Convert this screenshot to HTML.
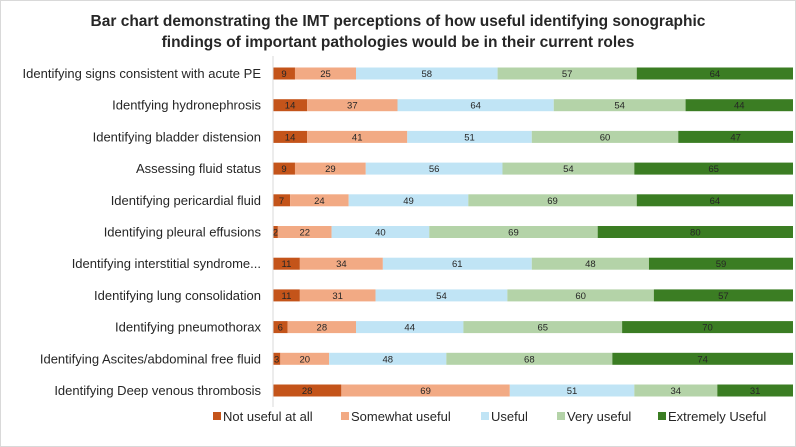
<!DOCTYPE html>
<html><head><meta charset="utf-8"><style>
body{margin:0;background:#fff;}
svg{display:block;font-family:"Liberation Sans",sans-serif;}
</style></head><body>
<svg id="chart" width="796" height="447">
<rect x="0.5" y="0.5" width="795" height="446" fill="#fff" stroke="#d9d9d9"/>
<text x="398" y="26" text-anchor="middle" font-size="15.5" font-weight="bold" fill="#262626">Bar chart demonstrating the IMT perceptions of how useful identifying sonographic</text>
<text x="398" y="47" text-anchor="middle" font-size="15.5" font-weight="bold" fill="#262626">findings of important pathologies would be in their current roles</text>
<g id="bars"></g>
<line x1="273" y1="56" x2="273" y2="407" stroke="#d9d9d9"/>
<g id="legend"></g>
</svg>
<script>
const categories=["Identifying signs consistent with acute PE","Identfying hydronephrosis","Identifying bladder distension","Assessing fluid status","Identifying pericardial fluid","Identifying pleural effusions","Identifying interstitial syndrome...","Identifying lung consolidation","Identifying pneumothorax","Identifying Ascites/abdominal free fluid","Identifying Deep venous thrombosis"];
const seriesNames=["Not useful at all","Somewhat useful","Useful","Very useful","Extremely Useful"];
const notUseful=[9,14,14,9,7,2,11,11,6,3,28];
const somewhatUseful=[25,37,41,29,24,22,34,31,28,20,69];
const useful=[58,64,51,56,49,40,61,54,44,48,51];
const veryUseful=[57,54,60,54,69,69,48,60,65,68,34];
const extremelyUseful=[64,44,47,65,64,80,59,57,70,74,31];
const series=[notUseful,somewhatUseful,useful,veryUseful,extremelyUseful];
const colors=["#c55a11","#f4b183","#bdd7ee","#a9d08e","#3a7d22"];
const colors2=["#c4541a","#f2aa84","#c0e4f5","#b4d3a8","#3b7d23"];
const ns="http://www.w3.org/2000/svg";
const x0=273,plotW=520,y0=73.5,step=31.7,bh=12;
let maxTotal=0;
categories.forEach((c,i)=>{let t=0;series.forEach(s=>t+=s[i]);if(t>maxTotal)maxTotal=t;});
const xs=v=>v/maxTotal*plotW;
const ys=i=>y0+i*step;
const g=document.getElementById('bars');
categories.forEach((c,i)=>{
  const lab=document.createElementNS(ns,'text');
  lab.setAttribute('x',261);lab.setAttribute('y',ys(i)+4.5);lab.setAttribute('text-anchor','end');
  lab.setAttribute('font-size','13');lab.setAttribute('fill','#262626');lab.textContent=c;
  
  
  g.appendChild(lab);
  let acc=0;
  series.forEach((s,k)=>{
    const v=s[i];
    const r=document.createElementNS(ns,'rect');
    r.setAttribute('x',x0+xs(acc));r.setAttribute('y',ys(i)-bh/2);
    r.setAttribute('width',xs(v));r.setAttribute('height',bh);r.setAttribute('fill',colors2[k]);
    
    
    g.appendChild(r);
    const t=document.createElementNS(ns,'text');
    t.setAttribute('x',x0+xs(acc+v/2));t.setAttribute('y',ys(i)+3.5);t.setAttribute('text-anchor','middle');
    t.setAttribute('font-size','9.5');t.setAttribute('fill','#262626');t.textContent=v;
    
    
    g.appendChild(t);
    acc+=v;
  });
});
const lg=document.getElementById('legend');
const lx=[213,341,481,557,658];
seriesNames.forEach((n,k)=>{
  const r=document.createElementNS(ns,'rect');
  r.setAttribute('x',lx[k]);r.setAttribute('y',412);r.setAttribute('width',8);r.setAttribute('height',8);r.setAttribute('fill',colors2[k]);
  
  
  lg.appendChild(r);
  const t=document.createElementNS(ns,'text');
  t.setAttribute('x',lx[k]+10);t.setAttribute('y',421);t.setAttribute('font-size','13');t.setAttribute('fill','#262626');t.textContent=n;
  
  
  lg.appendChild(t);
});
</script>
</body></html>
